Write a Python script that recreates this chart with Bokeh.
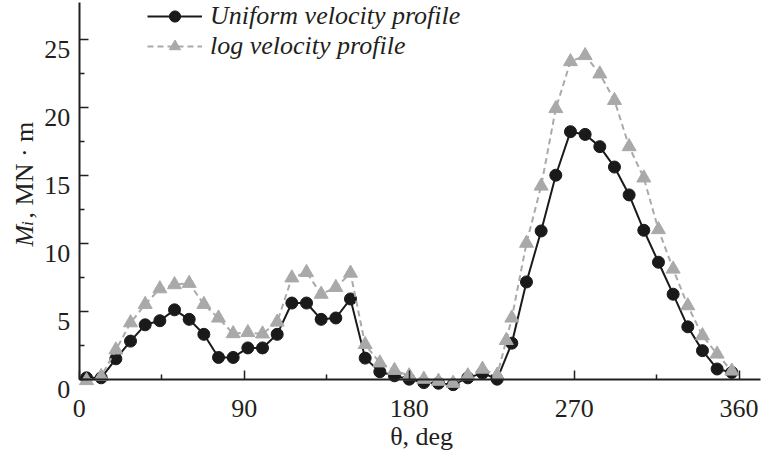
import math
from bokeh.plotting import figure
from bokeh.models import FixedTicker, Range1d, Label, Legend, LegendItem
from bokeh.core.properties import value
from bokeh.embed import file_html
from bokeh.resources import INLINE

# ---- data ----
theta_uniform = [4, 12, 20, 28, 36, 44, 52, 60, 68, 76, 84, 92, 100, 108, 116, 124, 132, 140,
                 148, 156, 164, 172, 180, 188, 196, 204, 212, 220, 228, 236, 244, 252, 260,
                 268, 276, 284, 292, 300, 308, 316, 324, 332, 340, 348, 356]
m_uniform = [0.1, 0.1, 1.5, 2.8, 4.0, 4.3, 5.1, 4.4, 3.3, 1.6, 1.6, 2.3, 2.3, 3.3, 5.6, 5.6, 4.4, 4.5,
             5.9, 1.55, 0.55, 0.25, 0.0, -0.25, -0.3, -0.4, 0.1, 0.45, 0.0, 2.65, 7.15, 10.9, 15.0,
             18.2, 18.0, 17.1, 15.6, 13.55, 10.95, 8.6, 6.25, 3.85, 2.1, 0.75, 0.5]

theta_log = [4, 12, 20, 28, 36, 44, 52, 60, 68, 76, 84, 92, 100, 108, 116, 124, 132, 140,
             148, 156, 164, 172, 180, 188, 196, 204, 212, 220, 228, 233, 236, 244, 252, 260,
             268, 276, 284, 292, 300, 308, 316, 324, 332, 340, 348, 356]
m_log = [-0.1, 0.2, 2.15, 4.15, 5.5, 6.65, 6.95, 7.05, 5.5, 4.5, 3.35, 3.43, 3.33, 4.2, 7.45, 7.85, 6.25, 6.75,
         7.8, 2.55, 1.2, 0.65, 0.25, 0.0, -0.15, -0.3, 0.25, 0.74, 0.3, 2.85, 4.5, 10.0, 14.2, 19.9,
         23.35, 23.8, 22.45, 20.5, 17.1, 14.8, 11.0, 8.1, 5.4, 3.2, 1.85, 0.6]

series_labels = ["Uniform velocity profile", "log velocity profile"]
x_ticks = [0, 90, 180, 270, 360]
x_minor_ticks = [45, 135, 225, 315]
y_ticks = [0, 5, 10, 15, 20, 25]
y_minor_ticks = [2.5, 7.5, 12.5, 17.5, 22.5]
x_tick_labels = ["0", "90", "180", "270", "360"]
y_tick_labels = ["0", "5", "10", "15", "20", "25"]

FONT = "Liberation Serif"
AX = "#231f20"
FS = "26px"

W, H = 763, 450
p = figure(width=W, height=H, output_backend="svg", toolbar_location=None,
           x_range=Range1d(-42.93, 373.3), y_range=Range1d(-5.243, 27.846),
           min_border_left=0, min_border_right=0, min_border_top=0, min_border_bottom=0)
p.grid.visible = False
p.outline_line_color = None
p.background_fill_color = "white"

xa = p.xaxis[0]
xa.fixed_location = 0
xa.bounds = (0, 371.7)
xa.ticker = FixedTicker(ticks=x_ticks, minor_ticks=x_minor_ticks)
ya = p.yaxis[0]
ya.fixed_location = 0
ya.bounds = (0, 27.7)
ya.ticker = FixedTicker(ticks=y_ticks, minor_ticks=y_minor_ticks)
for ax, ticks in ((xa, x_ticks), (ya, y_ticks)):
    ax.axis_line_width = 2
    ax.axis_line_color = AX
    ax.major_tick_line_color = AX
    ax.minor_tick_line_color = AX
    ax.major_tick_line_width = 1.5
    ax.minor_tick_line_width = 1.5
    ax.major_tick_in = 9
    ax.major_tick_out = 0
    ax.minor_tick_in = 5
    ax.minor_tick_out = 0
    ax.major_label_standoff = 0
    ax.major_label_text_font_size = "1px"
    ax.major_label_overrides = {t: "" for t in ticks}

lu = p.line(theta_uniform, m_uniform, line_color="#1a1a1a", line_width=2)
su = p.scatter(theta_uniform, m_uniform, marker="circle", size=12,
               fill_color="#1a1a1a", line_color="#1a1a1a")
ll = p.line(theta_log, m_log, line_color="#aaaaaa", line_width=2, line_dash="6 4")
sl = p.scatter(theta_log, m_log, marker="triangle", size=14,
               fill_color="#a9a9a9", line_color="#a9a9a9")

# tick labels placed at the tick values through the plot's scales
p.text(x=x_ticks, y=[0] * len(x_ticks), text=x_tick_labels, text_align="center",
       text_baseline="alphabetic", y_offset=29, text_font=value(FONT),
       text_font_size=value(FS), text_color=AX)
p.text(x=[0] * len(y_ticks), y=y_ticks, text=y_tick_labels, text_align="right",
       text_baseline="alphabetic", x_offset=-9, y_offset=10, text_font=value(FONT),
       text_font_size=value(FS), text_color=AX)

legend = Legend(items=[LegendItem(label=series_labels[0], renderers=[lu, su]),
                       LegendItem(label=series_labels[1], renderers=[ll, sl])],
                location=(147, 389), glyph_width=55, glyph_height=28, label_height=28,
                spacing=0, padding=0, margin=0, label_standoff=8,
                border_line_color=None, background_fill_alpha=0,
                label_text_font=FONT, label_text_font_style="italic",
                label_text_font_size=FS, label_text_color=AX)
p.add_layout(legend)

p.add_layout(Label(x=186.8, y=-4.2, text="θ, deg", text_align="center", text_baseline="alphabetic",
                   text_font=FONT, text_font_size=FS, text_color=AX))
p.add_layout(Label(x=-30.0, y=9.76, text="M", angle=math.pi / 2, text_align="left",
                   text_baseline="alphabetic", text_font=FONT, text_font_style="italic",
                   text_font_size=FS, text_color=AX))
p.add_layout(Label(x=-28.0, y=11.26, text="i", angle=math.pi / 2, text_align="left",
                   text_baseline="alphabetic", text_font=FONT, text_font_style="italic",
                   text_font_size="17px", text_color=AX))
p.add_layout(Label(x=-30.0, y=11.82, text=", MN · m", angle=math.pi / 2, text_align="left",
                   text_baseline="alphabetic", text_font=FONT,
                   text_font_size=FS, text_color=AX))

open("out.html", "w").write(file_html(p, INLINE))
